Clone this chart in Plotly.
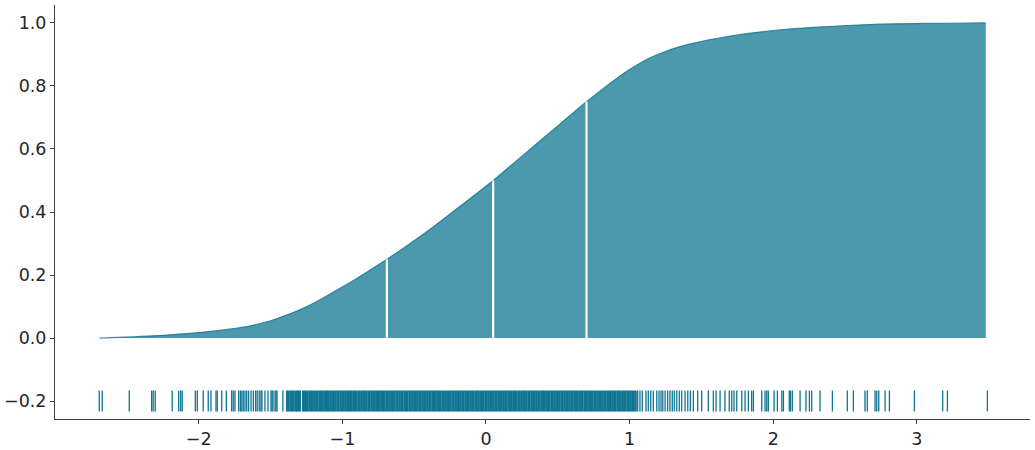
import plotly.graph_objects as go

# Cumulative KDE curve
cdf_x = [-2.69, -2.40, -2.06, -1.90, -1.71, -1.60, -1.48, -1.25, -1.02, -0.90,
         -0.785, -0.69, -0.55, -0.413, -0.181, 0.05, 0.283, 0.515, 0.70, 0.91,
         1.00, 1.119, 1.235, 1.351, 1.467, 1.583, 1.815, 2.047, 2.279, 2.512,
         2.744, 2.976, 3.20, 3.48]
cdf_y = [0.000, 0.005, 0.015, 0.022, 0.033, 0.043, 0.058, 0.099, 0.157, 0.189,
         0.222, 0.250, 0.293, 0.337, 0.418, 0.500, 0.590, 0.679, 0.750, 0.824,
         0.852, 0.884, 0.907, 0.925, 0.938, 0.949, 0.966, 0.978, 0.986, 0.992,
         0.996, 0.998, 0.999, 1.000]

# Quantiles (25%, 50%, 75%)
quant_x = [-0.69, 0.05, 0.70]
quant_y = [0.25, 0.50, 0.75]

# Rug of observations
rug_left = [-2.693, -2.672, -2.484, -2.328, -2.317, -2.303, -2.185, -2.140, -2.126, -2.115,
            -2.024, -2.010, -1.969, -1.934, -1.915, -1.880, -1.871, -1.840, -1.808, -1.771,
            -1.760, -1.748, -1.722, -1.710, -1.700, -1.690, -1.678, -1.666, -1.653, -1.636,
            -1.620, -1.604, -1.593, -1.579, -1.567, -1.560, -1.539, -1.518, -1.497, -1.490,
            -1.483, -1.469, -1.462, -1.455, -1.414]
rug_mid = [-1.386, -1.374, -1.362, -1.351, -1.339, -1.327, -1.316, -1.305, -1.295, -1.274,
           -1.262, -1.253, -1.241, -1.229, -1.218, -1.206, -1.195, -1.183, -1.172, -1.160,
           -1.149, -1.137, -1.126, -1.114, -1.105, -1.094, -1.082, -1.071, -1.059, -1.048,
           -1.036, -1.025, -1.013, -1.002, -0.990, -0.979, -0.967, -0.956, -0.947, -0.935,
           -0.924, -0.912, -0.901, -0.889, -0.878, -0.866, -0.855, -0.843, -0.832, -0.820,
           -0.809, -0.797, -0.786, -0.774, -0.763, -0.752, -0.740, -0.729, -0.717, -0.706,
           -0.694, -0.683, -0.671, -0.660, -0.648, -0.637, -0.625, -0.614, -0.602, -0.591,
           -0.580, -0.568, -0.557, -0.546, -0.534, -0.523, -0.511, -0.500, -0.488, -0.477,
           -0.465, -0.454, -0.442, -0.431, -0.419, -0.408, -0.396, -0.385, -0.373, -0.362,
           -0.350, -0.339, -0.327, -0.316, -0.304, -0.293, -0.281, -0.270, -0.258, -0.247,
           -0.235, -0.224, -0.212, -0.201, -0.189, -0.178, -0.166, -0.155, -0.143, -0.132,
           -0.120, -0.109, -0.097, -0.086, -0.074, -0.063, -0.051, -0.040, -0.028, -0.017,
           -0.005, 0.006, 0.018, 0.029, 0.041, 0.052, 0.064, 0.075, 0.087, 0.098,
           0.110, 0.121, 0.133, 0.144, 0.156, 0.167, 0.179, 0.190, 0.202, 0.213,
           0.225, 0.236, 0.248, 0.259, 0.271, 0.282, 0.294, 0.305, 0.317, 0.328,
           0.340, 0.351, 0.363, 0.374, 0.386, 0.397, 0.409, 0.420, 0.432, 0.443,
           0.455, 0.466, 0.478, 0.489, 0.501, 0.512, 0.524, 0.535, 0.547, 0.558,
           0.570, 0.581, 0.593, 0.604, 0.616, 0.627, 0.639, 0.650, 0.662, 0.673,
           0.685, 0.696, 0.708, 0.719, 0.731, 0.742, 0.754, 0.765, 0.777, 0.788,
           0.800, 0.811, 0.823, 0.834, 0.846, 0.857, 0.869, 0.880, 0.892, 0.903,
           0.915, 0.926, 0.938, 0.949, 0.961, 0.972, 0.984, 0.995, 1.007, 1.018,
           1.030, 1.043]
rug_right = [1.056, 1.072, 1.088, 1.114, 1.130, 1.147, 1.165, 1.189, 1.205, 1.219,
             1.231, 1.247, 1.265, 1.281, 1.297, 1.311, 1.328, 1.346, 1.363, 1.386,
             1.405, 1.423, 1.444, 1.474, 1.502, 1.548, 1.583, 1.602, 1.630, 1.664,
             1.694, 1.711, 1.727, 1.746, 1.781, 1.804, 1.827, 1.850, 1.862, 1.920,
             1.943, 1.955, 1.966, 2.006, 2.029, 2.060, 2.071, 2.112, 2.120, 2.133,
             2.187, 2.228, 2.252, 2.268, 2.326, 2.412, 2.516, 2.558, 2.639, 2.655,
             2.709, 2.721, 2.735, 2.779, 2.809, 2.983, 3.180, 3.213, 3.491]
rug_level = -0.2

x_ticks = [-2, -1, 0, 1, 2, 3]
y_ticks = [-0.2, 0.0, 0.2, 0.4, 0.6, 0.8, 1.0]

C0 = "#107591"

fig = go.Figure()
fig.add_trace(go.Scatter(
    x=cdf_x, y=cdf_y, mode="lines",
    line=dict(color="rgba(16,117,145,0.8)", width=1.2, shape="spline", smoothing=1.0),
    fill="tozeroy", fillcolor="rgba(16,117,145,0.75)", hoverinfo="skip", showlegend=False))

for qx, qy in zip(quant_x, quant_y):
    fig.add_trace(go.Scatter(x=[qx, qx], y=[0, qy], mode="lines",
                             line=dict(color="white", width=2.2), showlegend=False,
                             hoverinfo="skip"))

sparse = rug_left + rug_right
fig.add_trace(go.Scatter(
    x=sparse, y=[rug_level] * len(sparse), mode="markers",
    marker=dict(symbol="line-ns-open", size=15, color=C0, line=dict(width=1.3, color=C0)),
    showlegend=False, hoverinfo="skip"))
fig.add_trace(go.Scatter(
    x=rug_mid, y=[rug_level] * len(rug_mid), mode="markers",
    marker=dict(symbol="line-ns-open", size=15, color=C0, line=dict(width=2.0, color=C0)),
    showlegend=False, hoverinfo="skip"))

axis_common = dict(showgrid=False, zeroline=False, showline=True, linecolor="#3c3c3c",
                   linewidth=1, ticks="outside", ticklen=4, tickwidth=1, tickcolor="#3c3c3c",
                   automargin=False,
                   tickfont=dict(family="DejaVu Sans", size=17.5, color="#262626"))

fig.update_layout(
    width=1035, height=450,
    margin=dict(l=55, r=5, t=5, b=31),
    paper_bgcolor="white", plot_bgcolor="white",
    xaxis=dict(range=[-3.001, 3.788], tickvals=x_ticks, **axis_common),
    yaxis=dict(range=[-0.257, 1.057], tickvals=y_ticks, tickformat=".1f", **axis_common),
)

fig.write_html("out.html", config={"displayModeBar": False},
               post_script="document.body.style.margin='0';document.body.style.overflow='hidden';")
